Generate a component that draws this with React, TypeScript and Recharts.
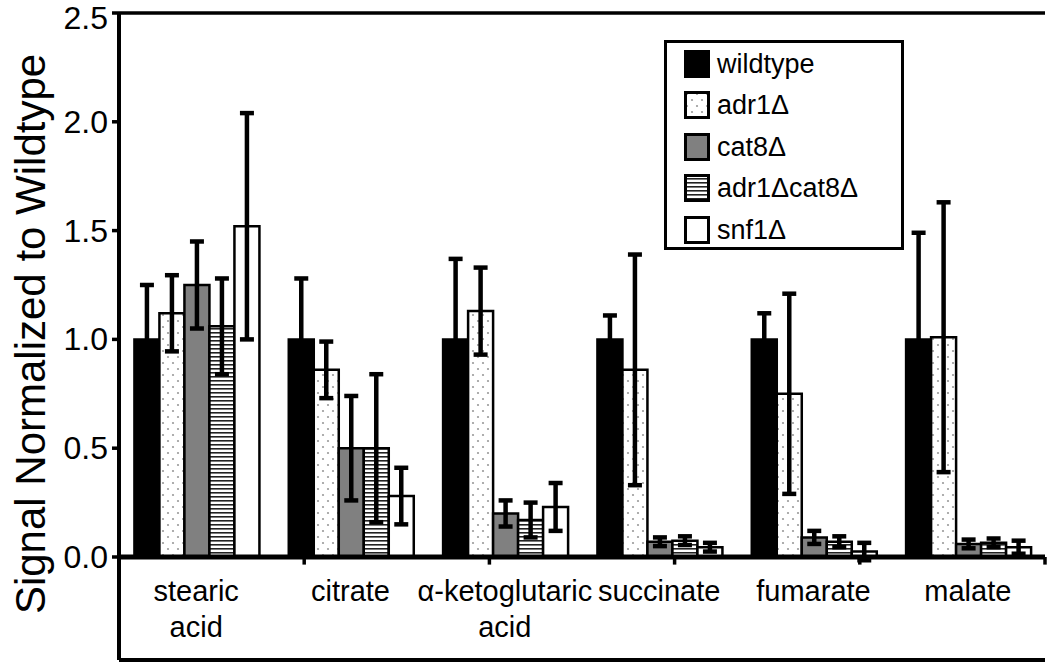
import React from 'react';
import { BarChart, Bar, XAxis, YAxis, ErrorBar, ReferenceLine, ReferenceDot, Legend } from 'recharts';

const FONT = '"Liberation Sans", Arial, sans-serif';

const categories = ['stearic acid', 'citrate', 'α-ketoglutaric acid', 'succinate', 'fumarate', 'malate'];
const categoryLines = [['stearic', 'acid'], ['citrate'], ['α-ketoglutaric', 'acid'], ['succinate'], ['fumarate'], ['malate']];

const wildtype = [1.0, 1.0, 1.0, 1.0, 1.0, 1.0];
const wildtypeErr = [0.25, 0.28, 0.37, 0.11, 0.12, 0.49];
const adr1 = [1.12, 0.86, 1.13, 0.86, 0.75, 1.01];
const adr1Err = [0.175, 0.13, 0.2, 0.53, 0.46, 0.62];
const cat8 = [1.25, 0.5, 0.2, 0.07, 0.09, 0.06];
const cat8Err = [0.2, 0.24, 0.06, 0.02, 0.03, 0.02];
const adr1cat8 = [1.06, 0.5, 0.17, 0.075, 0.07, 0.065];
const adr1cat8Err = [0.22, 0.34, 0.08, 0.02, 0.025, 0.02];
const snf1 = [1.52, 0.28, 0.23, 0.045, 0.025, 0.045];
const snf1Err = [0.52, 0.13, 0.11, 0.02, 0.04, 0.03];

const seriesNames = ['wildtype', 'adr1Δ', 'cat8Δ', 'adr1Δcat8Δ', 'snf1Δ'];
const seriesKeys = ['wt', 'adr1', 'cat8', 'adr1cat8', 'snf1'];
const seriesFills = ['#000000', 'url(#dotPat)', '#808080', 'url(#stripePat)', '#ffffff'];

const yTicks = [0, 0.5, 1.0, 1.5, 2.0, 2.5];
const yDomain = [-0.4734, 2.5];
const boundaries = [1, 2, 3, 4, 5];

const data = categories.map((name, i) => ({
  name,
  wt: wildtype[i], wtErr: wildtypeErr[i],
  adr1: adr1[i], adr1Err: adr1Err[i],
  cat8: cat8[i], cat8Err: cat8Err[i],
  adr1cat8: adr1cat8[i], adr1cat8Err: adr1cat8Err[i],
  snf1: snf1[i], snf1Err: snf1Err[i],
}));

const Swatch = ({ fill }: { fill: string }) => (
  <svg width={26} height={28} style={{ display: 'block' }}>
    <rect x={1.5} y={1.5} width={23} height={25} fill={fill} stroke="#000" strokeWidth={3} />
  </svg>
);

const LegendBox = () => (
  <div style={{ width: 240, height: 210, boxSizing: 'border-box', border: '3px solid #000', background: '#fff', paddingTop: 0, paddingLeft: 17, fontFamily: FONT }}>
    {seriesNames.map((n, i) => (
      <div key={n} style={{ display: 'flex', alignItems: 'center', height: 41.5 }}>
        <Swatch fill={seriesFills[i]} />
        <span style={{ marginLeft: 7, fontSize: 27, color: '#000', lineHeight: '28px' }}>{n}</span>
      </div>
    ))}
  </div>
);

const CatLabel = (props: any) => {
  const { cx, cy, lines } = props;
  return (
    <text x={cx} y={cy} textAnchor="middle" fontFamily={FONT} fontSize={29} fill="#000">
      {lines.map((l: string, k: number) => (
        <tspan key={k} x={cx} dy={k === 0 ? 10 : 36}>{l}</tspan>
      ))}
    </text>
  );
};

const YTick = (props: any) => {
  const { x, y, payload } = props;
  const v = payload.value as number;
  const shift = v === 2.5 ? 5 : 0;
  return (
    <text x={x} y={y + shift} textAnchor="end" dominantBaseline="central" fontFamily={FONT} fontSize={32} fill="#000">
      {v.toFixed(1)}
    </text>
  );
};

export default function App() {
  return (
    <div style={{ position: 'absolute', left: 0, top: 0, background: '#fff' }}>
      <BarChart
        width={1050}
        height={667}
        data={data}
        margin={{ top: 13, right: 5, bottom: 7, left: 0 }}
        barCategoryGap="10%"
        barGap={0}
      >
        <defs>
          <pattern id="dotPat" patternUnits="userSpaceOnUse" width={10} height={12}>
            <rect width={10} height={12} fill="#ffffff" />
            <circle cx={3} cy={3} r={1.1} fill="#9a9a9a" />
            <circle cx={8} cy={9} r={1.1} fill="#9a9a9a" />
          </pattern>
          <pattern id="stripePat" patternUnits="userSpaceOnUse" width={8} height={4}>
            <rect width={8} height={4} fill="#ffffff" />
            <rect y={0} width={8} height={1.6} fill="#222" />
          </pattern>
        </defs>
        <XAxis xAxisId="cat" dataKey="name" hide />
        <XAxis xAxisId="num" type="number" domain={[0, 6]} hide />
        <YAxis
          width={119}
          domain={yDomain}
          ticks={yTicks}
          allowDataOverflow
          interval={0}
          tick={<YTick />}
          tickLine={{ stroke: '#000', strokeWidth: 3.5 }}
          tickSize={7}
          tickMargin={4}
          axisLine={{ stroke: '#000', strokeWidth: 4 }}
        />
        {seriesKeys.map((k, i) => (
          <Bar key={k} xAxisId="cat" dataKey={k} name={seriesNames[i]} fill={seriesFills[i]} stroke="#000" strokeWidth={2.5} isAnimationActive={false}>
            <ErrorBar dataKey={k + 'Err'} width={7} strokeWidth={4.5} stroke="#000" isAnimationActive={false} />
          </Bar>
        ))}
        <ReferenceLine xAxisId="num" y={0} stroke="#000" strokeWidth={5} />
        <ReferenceLine xAxisId="num" y={yDomain[1]} stroke="#000" strokeWidth={3.5} />
        <ReferenceLine xAxisId="num" y={yDomain[0]} stroke="#000" strokeWidth={4} />
        <ReferenceLine xAxisId="num" x={6} stroke="#000" strokeWidth={4} />
        {boundaries.map((b) => (
          <ReferenceLine key={b} xAxisId="num" segment={[{ x: b, y: 0 }, { x: b, y: -0.035 }]} stroke="#000" strokeWidth={3.5} />
        ))}
        {categories.map((c, i) => (
          <ReferenceDot key={c} xAxisId="cat" x={c} y={-0.155} r={0} fill="none" stroke="none"
            shape={(p: any) => <CatLabel cx={p.cx} cy={p.cy} lines={categoryLines[i]} />} />
        ))}
        <text x={30} y={334} transform="rotate(-90 30 334)" textAnchor="middle" dominantBaseline="central" fontFamily={FONT} fontSize={42} fill="#000">
          Signal Normalized to Wildtype
        </text>
        <Legend
          layout="vertical"
          align="center"
          verticalAlign="middle"
          content={() => <LegendBox />}
          wrapperStyle={{ left: 664, top: 40, width: 240, height: 210, margin: 0 }}
        />
      </BarChart>
    </div>
  );
}
